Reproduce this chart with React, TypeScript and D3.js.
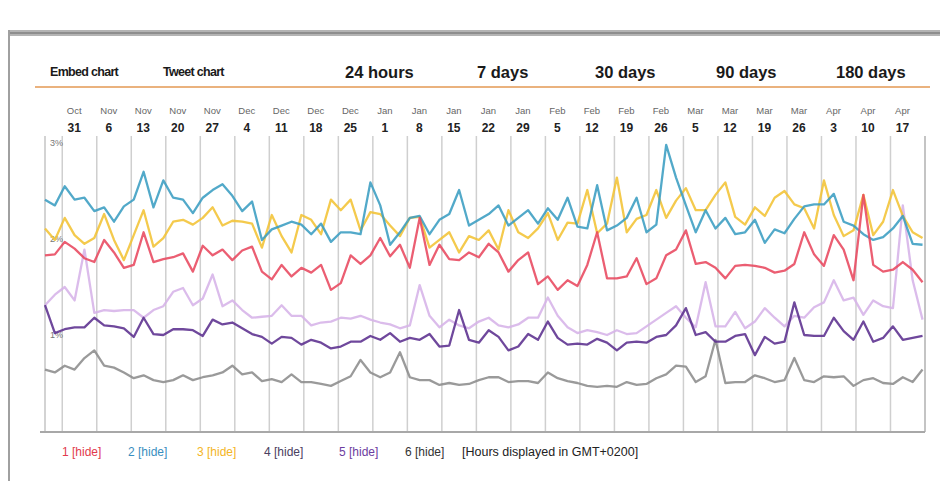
import React from "react";
import * as d3 from "d3";

// weekly tick labels (first tick = day 0)
const tickMonths = ["Oct","Nov","Nov","Nov","Nov","Dec","Dec","Dec","Dec","Jan","Jan","Jan","Jan","Jan","Feb","Feb","Feb","Feb","Mar","Mar","Mar","Mar","Apr","Apr","Apr"];
const tickDays = ["31","6","13","20","27","4","11","18","25","1","8","15","22","29","5","12","19","26","5","12","19","26","3","10","17"];

const yTicks = [1, 2, 3];

const tabs = ["Embed chart", "Tweet chart", "24 hours", "7 days", "30 days", "90 days", "180 days"];

// series values in %, one point every two days
const s1 = [1.83,1.84,1.97,1.90,1.80,1.76,1.99,1.86,1.70,1.73,
  2.07,1.76,1.79,1.81,1.85,1.66,1.93,1.83,1.89,1.78,
  1.88,1.92,1.66,1.58,1.73,1.61,1.70,1.65,1.73,1.47,
  1.54,1.83,1.74,1.83,2.01,1.82,1.94,1.70,2.22,1.73,
  1.94,1.79,1.78,1.86,1.81,1.95,1.86,1.66,1.78,1.86,
  1.53,1.61,1.47,1.57,1.51,1.73,2.07,1.59,1.59,1.61,
  1.80,1.53,1.59,1.83,1.89,2.09,1.74,1.76,1.70,1.59,
  1.72,1.73,1.72,1.70,1.65,1.67,1.74,2.07,1.84,1.72,
  2.04,1.89,1.57,2.46,1.73,1.66,1.68,1.76,1.68,1.55];
const s2 = [2.41,2.35,2.55,2.41,2.43,2.29,2.33,2.18,2.34,2.41,
  2.70,2.33,2.61,2.43,2.41,2.27,2.43,2.51,2.57,2.45,
  2.29,2.39,1.99,2.10,2.14,2.18,2.15,2.05,2.16,1.97,
  2.07,2.07,2.05,2.59,2.35,1.94,2.07,2.22,2.24,2.05,
  2.20,2.26,2.51,2.14,2.20,2.26,2.35,2.14,2.22,2.30,
  2.16,2.32,2.20,2.43,2.13,2.11,2.56,2.09,2.14,2.22,
  2.43,2.07,2.15,2.98,2.64,2.35,2.07,2.30,2.11,2.22,
  2.05,2.07,2.20,1.96,2.10,2.06,2.21,2.34,2.36,2.36,
  2.47,2.18,2.14,2.05,1.99,2.02,2.11,2.24,1.95,1.94];
const s3 = [2.11,1.99,2.22,2.04,1.95,2.01,2.26,1.99,1.78,2.04,
  2.30,1.92,2.01,2.18,2.20,2.15,2.22,2.33,2.14,2.19,
  2.18,2.16,1.91,2.25,2.03,1.86,2.25,2.20,2.05,2.41,
  2.30,2.41,2.09,2.28,2.26,2.14,2.03,2.22,2.23,1.91,
  1.99,2.07,1.86,2.03,1.99,2.09,1.89,2.30,2.07,2.01,
  2.11,2.27,1.99,2.17,2.16,2.51,2.06,2.16,2.64,2.07,
  2.21,2.25,2.51,2.22,2.40,2.53,2.30,2.30,2.46,2.59,
  2.23,2.15,2.33,2.24,2.43,2.50,2.36,2.32,2.11,2.61,
  2.25,2.03,2.09,2.46,2.04,2.18,2.51,2.24,2.07,2.01];
const s4 = [1.31,1.02,1.06,1.08,1.08,1.18,1.10,1.09,1.07,0.98,
  1.18,1.01,1.00,1.06,1.06,1.05,0.99,1.16,1.11,1.13,
  1.07,1.01,0.98,0.91,0.98,0.97,0.90,0.95,0.92,0.86,
  0.88,0.93,0.93,0.99,0.95,1.02,0.93,0.97,0.95,1.01,
  0.88,0.89,1.26,0.95,0.92,1.05,0.98,0.84,0.88,1.01,
  0.95,1.14,0.97,0.90,0.91,0.90,0.96,0.92,0.84,0.92,
  0.93,0.92,0.98,1.00,1.10,1.28,1.00,1.03,0.93,0.93,
  0.99,1.01,0.79,0.98,0.91,0.93,1.34,1.00,0.99,0.99,
  1.18,1.04,0.95,1.14,0.93,0.97,1.09,0.95,0.97,0.99];
const s5 = [1.31,1.42,1.50,1.36,1.89,1.23,1.26,1.25,1.26,1.26,
  1.18,1.26,1.30,1.45,1.49,1.31,1.38,1.63,1.30,1.36,
  1.26,1.18,1.19,1.20,1.31,1.20,1.20,1.10,1.13,1.14,
  1.18,1.17,1.20,1.16,1.13,1.11,1.07,1.10,1.52,1.20,
  1.08,1.16,1.10,1.07,1.14,1.18,1.10,1.08,1.11,1.18,
  1.18,1.39,1.20,1.08,1.02,1.05,1.03,1.00,1.05,1.01,
  1.02,1.09,1.16,1.23,1.30,1.18,1.08,1.55,1.09,1.09,
  1.24,1.07,1.14,1.28,1.18,1.09,1.20,1.18,1.29,1.34,
  1.57,1.36,1.39,1.21,1.36,1.30,1.28,2.35,1.57,1.16];
const s6 = [0.64,0.61,0.68,0.64,0.76,0.84,0.68,0.66,0.61,0.55,
  0.58,0.53,0.51,0.53,0.58,0.53,0.56,0.58,0.61,0.68,
  0.59,0.61,0.52,0.54,0.51,0.59,0.51,0.51,0.49,0.47,
  0.52,0.57,0.74,0.61,0.56,0.61,0.82,0.56,0.53,0.53,
  0.48,0.50,0.48,0.49,0.53,0.56,0.56,0.51,0.52,0.52,
  0.50,0.61,0.55,0.52,0.50,0.47,0.46,0.47,0.46,0.51,
  0.48,0.49,0.55,0.59,0.68,0.67,0.51,0.57,0.95,0.50,
  0.51,0.51,0.58,0.55,0.51,0.53,0.76,0.53,0.51,0.57,
  0.56,0.57,0.47,0.53,0.55,0.50,0.49,0.56,0.51,0.64];

const seriesNames = ["1", "2", "3", "4", "5", "6"];
const seriesValues = [s1, s2, s3, s4, s5, s6];
const lineColors = ["#e8485e", "#3a9dc2", "#f3c334", "#5b2f8e", "#d6b3e8", "#8c8c8c"];
const legendColors = ["#e23a4c", "#3a8ec0", "#f4b526", "#4a4060", "#6d3da0", "#333333"];

const App = () => {
  const width = 940, height = 481;
  const left = 45, right = 925, top = 136, bottom = 432;

  // day offsets, day 0 = first weekly tick
  const days = d3.range(s1.length).map((i) => 2 * i - 3.5);
  const ticks = d3.range(tickDays.length).map((k) => 7 * k);

  const x = d3.scaleLinear().domain([-3.5, 175]).range([left, right]);
  const y = d3.scaleLinear().domain([0, 3]).range([431, 143]);

  const line = d3
    .line<number>()
    .x((d, i) => x(days[i]))
    .y((d) => y(d));

  const tabStyle = [
    { x: 50, size: 12.5 }, { x: 163, size: 12.5 }, { x: 345, size: 16.5 }, { x: 477, size: 16.5 },
    { x: 595, size: 16.5 }, { x: 716, size: 16.5 }, { x: 836, size: 16.5 },
  ];
  const legendX = [62, 128, 197, 264, 339, 405];

  return (
    <svg
      width={width}
      height={height}
      style={{ position: "absolute", left: 0, top: 0, fontFamily: "'Liberation Sans', Arial, sans-serif" }}
    >
      <rect width={width} height={height} fill="#fff" />
      {/* frame */}
      <rect x={8} y={30} width={932} height={6} fill="#b4b4b4" />
      <line x1={8} x2={940} y1={33} y2={33} stroke="#8e8e8e" strokeWidth={2} />
      <line x1={9} x2={9} y1={30} y2={481} stroke="#a0a0a0" strokeWidth={2} />

      {/* tabs */}
      {tabs.map((t, i) => (
        <text key={t} x={tabStyle[i].x} y={i < 2 ? 76 : 78} fontSize={tabStyle[i].size}
          fontWeight="bold" fill="#1a1a1a" letterSpacing={i < 2 ? -0.7 : 0}>
          {t}
        </text>
      ))}
      <line x1={35} x2={930} y1={87} y2={87} stroke="#eab27e" strokeWidth={2} />

      {/* week labels */}
      {ticks.map((t, k) => (
        <g key={"lab" + k} transform={`translate(${x(t) + 12},0)`} textAnchor="middle">
          <text y={114} fontSize={9.5} fill="#666">{tickMonths[k]}</text>
          <text y={132} fontSize={12} fontWeight="bold" fill="#222">{tickDays[k]}</text>
        </g>
      ))}

      {/* grid */}
      {ticks.map((t, k) => (
        <line key={"g" + k} x1={x(t)} x2={x(t)} y1={top} y2={bottom} stroke="#cfcfcf" strokeWidth={1.5} />
      ))}
      <line x1={left} x2={left} y1={top} y2={bottom} stroke="#c4c4c4" strokeWidth={1.5} />
      <line x1={right} x2={right} y1={top} y2={bottom} stroke="#b0b0b0" strokeWidth={1.5} />

      {yTicks.map((v) => (
        <text key={"y" + v} x={50} y={y(v) + 3} fontSize={9} fill="#777">{v}%</text>
      ))}

      {/* series, drawn from 6 back to 1 */}
      {seriesValues
        .map((vals, i) => ({ vals, i }))
        .reverse()
        .map(({ vals, i }) => (
          <path key={"s" + i} d={line(vals) || ""} fill="none" stroke={lineColors[i]}
            strokeWidth={2.3} strokeOpacity={0.88} strokeLinejoin="round" />
        ))}

      <line x1={40} x2={right} y1={bottom} y2={bottom} stroke="#a8a8a8" strokeWidth={2} />

      {/* legend */}
      {seriesNames.map((n, i) => (
        <text key={"l" + n} x={legendX[i]} y={456} fontSize={12} fill={legendColors[i]}>
          {n} [hide]
        </text>
      ))}
      <text x={462} y={456} fontSize={12.5} fill="#222">[Hours displayed in GMT+0200]</text>
    </svg>
  );
};

export default App;
